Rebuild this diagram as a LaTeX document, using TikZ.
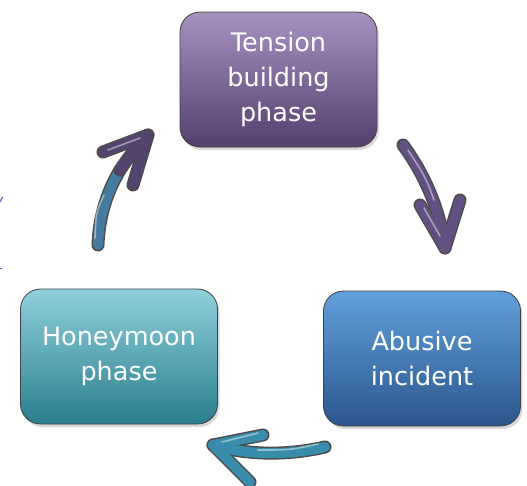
\documentclass[tikz,border=0pt]{standalone}
\usepackage{fontspec}
\setmainfont{DejaVu Sans}
\usetikzlibrary{shadows}
\definecolor{tenstop}{HTML}{A892C2}\definecolor{tensbot}{HTML}{563F6E}
\definecolor{honeytop}{HTML}{8FD0DA}\definecolor{honeybot}{HTML}{2A7E8E}
\definecolor{abustop}{HTML}{62A0DC}\definecolor{abusbot}{HTML}{2A568C}
\definecolor{arrowpurple}{HTML}{625082}\definecolor{arrowteal}{HTML}{3A8CAC}
\definecolor{strayink}{HTML}{6A4AD0}
\begin{document}
\begin{tikzpicture}[x=1pt,y=-1pt,
  phasebox/.style={draw=black!75,line width=0.8pt,rounded corners=20pt,minimum width=197pt,minimum height=135pt,
    align=center,text=white,font=\fontsize{25.5}{35}\selectfont,drop shadow={opacity=0.3,shadow xshift=2pt,shadow yshift=-3pt}},
  arrowedge/.style={line width=13pt,line cap=round,line join=round,draw=black!70},
  arrowbody/.style={line width=10pt,line cap=round,line join=round},
  purplebody/.style={arrowbody,draw=arrowpurple},
  tealbody/.style={arrowbody,draw=arrowteal},
  mixbody/.style={arrowbody,draw=arrowteal!70!arrowpurple},
  darkbody/.style={arrowbody,draw=arrowpurple!85!black},
  arrowgloss/.style={line width=1.6pt,line cap=round,white,opacity=0.45}]
\useasboundingbox (0,0) rectangle (527,485);
\fill[white] (0,0) rectangle (527,485);
\node[phasebox,top color=tenstop,bottom color=tensbot] (tension) at (278.5,79.5) {Tension\\building\\phase};
\node[phasebox,top color=abustop,bottom color=abusbot] (abusive) at (422,358.5) {Abusive\\incident};
\node[phasebox,top color=honeytop,bottom color=honeybot] (honeymoon) at (119,356.5) {Honeymoon\\phase};
% arrow ends
\coordinate (ta) at (403,145); \coordinate (tb) at (445,248); \coordinate (tl) at (420,205); \coordinate (tr) at (460,200);
\coordinate (aa) at (325,447); \coordinate (ab) at (213,445); \coordinate (al) at (263,435); \coordinate (ar) at (250,482);
\coordinate (ha) at (98,245); \coordinate (hm) at (120,170); \coordinate (hb) at (148,135); \coordinate (hl) at (103,152); \coordinate (hr) at (133,185);
\foreach \s in {arrowedge,purplebody}{
  \draw[\s] (ta) .. controls (425,175) and (440,210) .. (tb); \draw[\s] (tl) -- (tb) -- (tr);}
\foreach \s in {arrowedge,tealbody}{
  \draw[\s] (aa) .. controls (290,455) and (250,456) .. (ab); \draw[\s] (al) -- (ab) -- (ar);}
\foreach \s in {arrowedge,mixbody}{
  \draw[\s] (ha) .. controls (99,215) and (108,190) .. (hm);}
\foreach \s in {arrowedge,darkbody}{
  \draw[\s] (hm) .. controls (128,158) and (137,146) .. (hb); \draw[\s] (hl) -- (hb) -- (hr);}
\draw[arrowgloss] (408,150) .. controls (426,178) .. (434,200); \draw[arrowgloss] (424,208) -- (440,236);
\draw[arrowgloss] (318,444) .. controls (290,450) .. (258,450); \draw[arrowgloss] (258,433) -- (222,442);
\draw[arrowgloss] (108,150) -- (140,138); \draw[arrowgloss] (95,238) .. controls (96,212) .. (104,195);
% cut text at the left edge
\node[text=strayink,font=\fontsize{15}{15}\selectfont\itshape,anchor=east] (strayy) at (7,203) {y};
\node[text=strayink,font=\fontsize{13}{13}\selectfont,anchor=east] (strayone) at (7,265) {1};
\end{tikzpicture}
\end{document}
